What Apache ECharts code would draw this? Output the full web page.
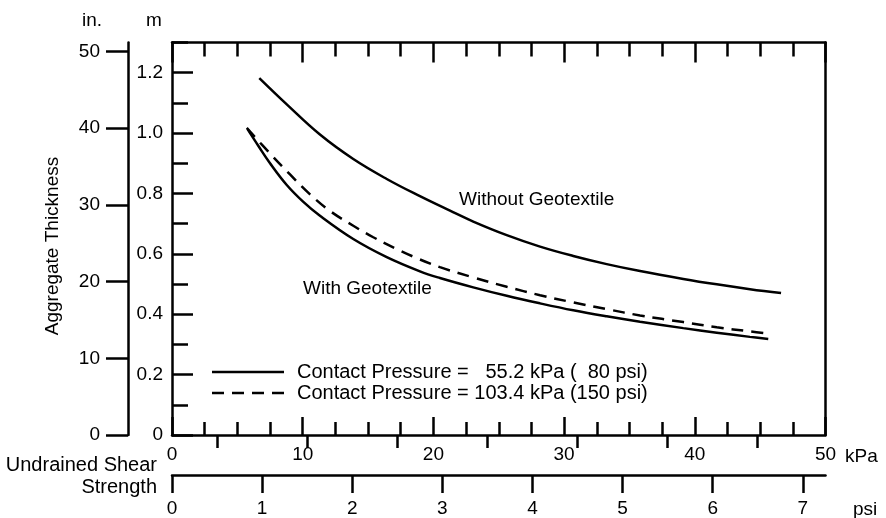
<!DOCTYPE html>
<html>
<head>
<meta charset="utf-8">
<title>Aggregate Thickness vs Undrained Shear Strength</title>
<script src="https://cdn.jsdelivr.net/npm/echarts@6/dist/echarts.min.js"></script>
<style>
  html, body { margin: 0; padding: 0; background: #fff; }
  #chart { width: 886px; height: 518px; }
</style>
</head>
<body>
<div id="chart"></div>
<script>
// Required aggregate thickness (m) against undrained shear strength (kPa)
const withoutGeotextile80 = [
  [6.68, 1.182], [8.78, 1.095], [11.32, 0.995], [13.87, 0.914], [16.43, 0.848],
  [18.97, 0.791], [21.27, 0.743], [23.05, 0.707], [25.61, 0.662], [28.16, 0.624],
  [30.70, 0.593], [33.26, 0.566], [35.81, 0.543], [39.12, 0.517], [41.68, 0.499],
  [44.22, 0.483], [46.60, 0.470]
];
const withGeotextile80 = [
  [5.78, 1.013], [6.60, 0.958], [7.50, 0.900], [8.78, 0.828], [10.05, 0.772],
  [11.32, 0.726], [13.87, 0.649], [16.43, 0.589], [18.97, 0.542], [20.50, 0.520],
  [23.05, 0.489], [25.61, 0.461], [28.16, 0.436], [30.70, 0.413], [33.26, 0.393],
  [35.81, 0.375], [39.12, 0.354], [41.68, 0.339], [44.22, 0.325], [45.62, 0.318]
];
const withGeotextile150 = [
  [5.72, 1.017], [7.44, 0.935], [9.03, 0.863], [10.56, 0.797], [12.09, 0.742],
  [13.87, 0.693], [15.40, 0.655], [17.19, 0.616], [18.72, 0.586], [20.50, 0.556],
  [23.05, 0.522], [25.61, 0.491], [28.16, 0.463], [30.70, 0.439], [33.26, 0.417],
  [35.81, 0.396], [39.12, 0.374], [41.68, 0.357], [44.22, 0.343], [45.75, 0.335]
];

// Axis ranges and tick labels
const kPaMax = 50;
const mMax = 1.3;
const psiMax = kPaMax / 6.894757;   // same span expressed in psi
const inMax = mMax / 0.0254;        // same span expressed in inches
const mLabels = [0, 0.2, 0.4, 0.6, 0.8, 1.0, 1.2];
const inLabels = [0, 10, 20, 30, 40, 50];
const psiLabels = [0, 1, 2, 3, 4, 5, 6, 7];
const psiHalfTicks = [0.5, 1.5, 2.5, 3.5, 4.5, 5.5, 6.5];

const FONT = 'Liberation Sans';
const INK = '#000';
const LW = 2.5;

const chart = echarts.init(document.getElementById('chart'), null, { renderer: 'canvas' });

const line = { show: true, onZero: false, lineStyle: { color: INK, width: LW } };
const tickStyle = { color: INK, width: LW };
const labelStyle = { color: INK, fontFamily: FONT, fontSize: 19 };
const font = size => size + 'px "Liberation Sans", Arial, sans-serif';

function txt(x, y, text, size, align, extra) {
  return Object.assign({
    type: 'text', x: x, y: y,
    style: { text: text, fill: INK, font: font(size), textAlign: align, textVerticalAlign: 'middle' }
  }, extra || {});
}

const curveStyle = { showSymbol: false, smooth: 0.4, type: 'line', xAxisIndex: 0, yAxisIndex: 0 };

const option = {
  backgroundColor: '#fff',
  animation: false,
  grid: { left: 172, right: 60.5, top: 42.5, bottom: 81 },
  xAxis: [
    { // kPa, bottom of frame
      type: 'value', position: 'bottom', min: 0, max: kPaMax, interval: 10,
      axisLine: line,
      axisTick: { show: true, inside: true, length: 18, lineStyle: tickStyle },
      minorTick: { show: true, splitNumber: 4, length: 13, lineStyle: tickStyle },
      axisLabel: Object.assign({ margin: 10 }, labelStyle),
      splitLine: { show: false }
    },
    { // top edge of frame
      type: 'value', position: 'top', min: 0, max: kPaMax, interval: 10,
      axisLine: line,
      axisTick: { show: true, inside: true, length: 20, lineStyle: tickStyle },
      minorTick: { show: true, splitNumber: 4, length: 14, lineStyle: tickStyle },
      axisLabel: { show: false },
      splitLine: { show: false }
    },
    { // psi scale
      type: 'value', position: 'bottom', offset: 40, min: 0, max: psiMax,
      axisLine: line,
      axisTick: { show: true, inside: false, length: 18, lineStyle: tickStyle, customValues: psiLabels },
      axisLabel: Object.assign({ margin: 24, customValues: psiLabels }, labelStyle),
      splitLine: { show: false }
    },
    { // psi half steps
      type: 'value', position: 'bottom', offset: 40, min: 0, max: psiMax,
      axisLine: { show: false },
      axisTick: { show: true, inside: false, length: 13, lineStyle: tickStyle, customValues: psiHalfTicks },
      axisLabel: { show: false },
      splitLine: { show: false }
    }
  ],
  yAxis: [
    { // metres
      type: 'value', position: 'left', min: 0, max: mMax, interval: 0.1,
      axisLine: line,
      axisTick: { show: true, inside: true, length: 16, lineStyle: tickStyle },
      axisLabel: Object.assign({
        margin: 9, customValues: mLabels,
        formatter: v => (v === 0 ? '0' : v.toFixed(1))
      }, labelStyle),
      splitLine: { show: false }
    },
    { // longer ticks at labelled metre values
      type: 'value', position: 'left', min: 0, max: mMax,
      axisLine: { show: false },
      axisTick: { show: true, inside: true, length: 21, lineStyle: tickStyle, customValues: mLabels },
      axisLabel: { show: false },
      splitLine: { show: false }
    },
    { // inches
      type: 'value', position: 'left', offset: 44, min: 0, max: inMax,
      axisLine: line,
      axisTick: { show: true, inside: false, length: 22, lineStyle: tickStyle, customValues: inLabels },
      axisLabel: Object.assign({ margin: 28, customValues: inLabels }, labelStyle),
      splitLine: { show: false }
    },
    { // right edge of frame
      type: 'value', position: 'right', min: 0, max: mMax,
      axisLine: line,
      axisTick: { show: false },
      axisLabel: { show: false },
      splitLine: { show: false }
    }
  ],
  series: [
    Object.assign({
      name: 'Without Geotextile', data: withoutGeotextile80,
      lineStyle: { color: INK, width: LW }
    }, curveStyle),
    Object.assign({
      name: 'With Geotextile', data: withGeotextile80,
      lineStyle: { color: INK, width: LW }
    }, curveStyle),
    Object.assign({
      name: 'With Geotextile 150 psi', data: withGeotextile150,
      lineStyle: { color: INK, width: LW, type: [12, 8] }
    }, curveStyle)
  ],
  graphic: [
    txt(92, 21, 'in.', 19, 'center'),
    txt(154, 21, 'm', 19, 'center'),
    txt(53, 246, 'Aggregate Thickness', 19, 'center', { rotation: Math.PI / 2 }),
    txt(157, 465, 'Undrained Shear', 20, 'right'),
    txt(157, 487, 'Strength', 20, 'right'),
    txt(845, 457, 'kPa', 19, 'left'),
    txt(853, 510, 'psi', 19, 'left'),
    txt(459, 200, 'Without Geotextile', 19, 'left'),
    txt(303, 289, 'With Geotextile', 19, 'left'),
    { type: 'line', shape: { x1: 212, y1: 372, x2: 284, y2: 372 }, style: { stroke: INK, lineWidth: LW } },
    { type: 'line', shape: { x1: 212, y1: 393, x2: 284, y2: 393 }, style: { stroke: INK, lineWidth: LW, lineDash: [12, 8] } },
    txt(297, 372, 'Contact Pressure =   55.2 kPa (  80 psi)', 20, 'left'),
    txt(297, 393, 'Contact Pressure = 103.4 kPa (150 psi)', 20, 'left')
  ]
};

chart.setOption(option);
</script>
</body>
</html>
